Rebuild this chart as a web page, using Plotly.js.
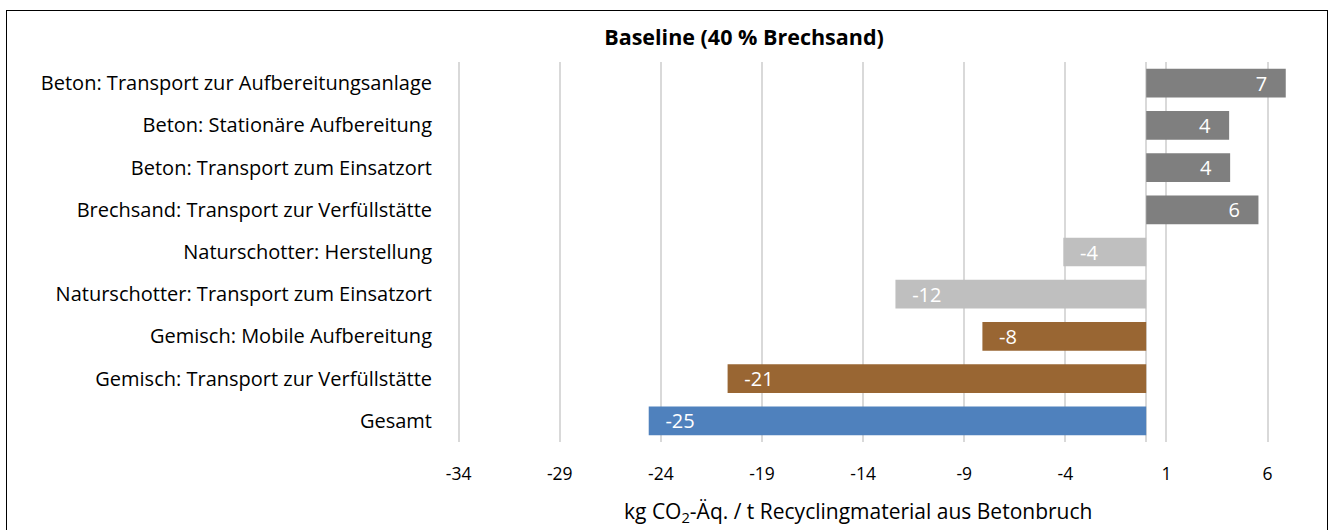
<!DOCTYPE html>
<html>
<head>
<meta charset="utf-8">
<script src="https://cdn.plot.ly/plotly-3.0.1.min.js"></script>
<style>
  html, body { margin: 0; padding: 0; background: #fff; }
  #chart { position: absolute; left: 0; top: 0; width: 1336px; height: 530px; }
  #frame { position: absolute; left: 6px; top: 10px; width: 1322px; height: 530px; border: 1.5px solid #000; pointer-events: none; box-sizing: border-box; }
</style>
</head>
<body>
<div id="chart"></div>
<div id="frame"></div>
<script>
const categories = [
  "Beton: Transport zur Aufbereitungsanlage",
  "Beton: Stationäre Aufbereitung",
  "Beton: Transport zum Einsatzort",
  "Brechsand: Transport zur Verfüllstätte",
  "Naturschotter: Herstellung",
  "Naturschotter: Transport zum Einsatzort",
  "Gemisch: Mobile Aufbereitung",
  "Gemisch: Transport zur Verfüllstätte",
  "Gesamt"
];
const values = [6.9, 4.1, 4.15, 5.55, -4.1, -12.4, -8.1, -20.7, -24.6];
const tickValues = [-34, -29, -24, -19, -14, -9, -4, 1, 6];

const barColors = ["#7f7f7f", "#7f7f7f", "#7f7f7f", "#7f7f7f",
                   "#bfbfbf", "#bfbfbf", "#996633", "#996633", "#4f81bd"];
const padR = "\u00a0\u00a0\u00a0";
const padL = "\u00a0\u00a0\u2009";
const templates = values.map(v => v > 0 ? "%{x:.0f}" + padR : padL + "%{x:.0f}");

const FONT = "'Open Sans', 'Noto Sans', sans-serif";

const trace = {
  type: "bar",
  orientation: "h",
  y: categories,
  x: values,
  marker: { color: barColors },
  texttemplate: templates,
  textposition: "inside",
  insidetextanchor: "end",
  textangle: 0,
  constraintext: "none",
  insidetextfont: { color: "#ffffff", size: 20, family: FONT },
  hoverinfo: "none"
};

const layout = {
  width: 1336,
  height: 530,
  margin: { l: 457, r: 28, t: 62, b: 88 },
  paper_bgcolor: "#ffffff",
  plot_bgcolor: "#ffffff",
  font: { family: FONT, color: "#000000", size: 17 },
  title: {
    text: "<b>Baseline (40 % Brechsand)</b>",
    font: { family: FONT, size: 21.5, color: "#000000" },
    x: 744 / 1336, xanchor: "center", xref: "container",
    y: 1 - 37 / 530, yanchor: "middle", yref: "container"
  },
  bargap: 0.32,
  showlegend: false,
  xaxis: {
    range: [-34.08, 8],
    tickvals: tickValues,
    ticktext: tickValues.map(String),
    showgrid: true,
    gridcolor: "#d9d9d9",
    gridwidth: 2,
    zeroline: true,
    zerolinecolor: "#d9d9d9",
    zerolinewidth: 2,
    showline: false,
    ticks: "outside",
    ticklen: 16,
    tickcolor: "rgba(0,0,0,0)",
    tickfont: { family: FONT, size: 17.5, color: "#000000" },
    fixedrange: true
  },
  yaxis: {
    type: "category",
    autorange: "reversed",
    showgrid: false,
    zeroline: false,
    showline: false,
    ticks: "outside",
    ticklen: 20,
    tickcolor: "rgba(0,0,0,0)",
    tickfont: { family: FONT, size: 20, color: "#000000" },
    fixedrange: true
  },
  annotations: [{
    text: "kg CO<sub>2</sub>-Äq. / t Recyclingmaterial aus Betonbruch",
    xref: "paper", yref: "paper",
    x: (858 - 457) / 851, y: (442 - 512) / 380,
    xanchor: "center", yanchor: "middle",
    showarrow: false,
    font: { family: FONT, size: 21, color: "#000000" }
  }]
};

Plotly.newPlot("chart", [trace], layout, { displayModeBar: false, staticPlot: true });
</script>
</body>
</html>
